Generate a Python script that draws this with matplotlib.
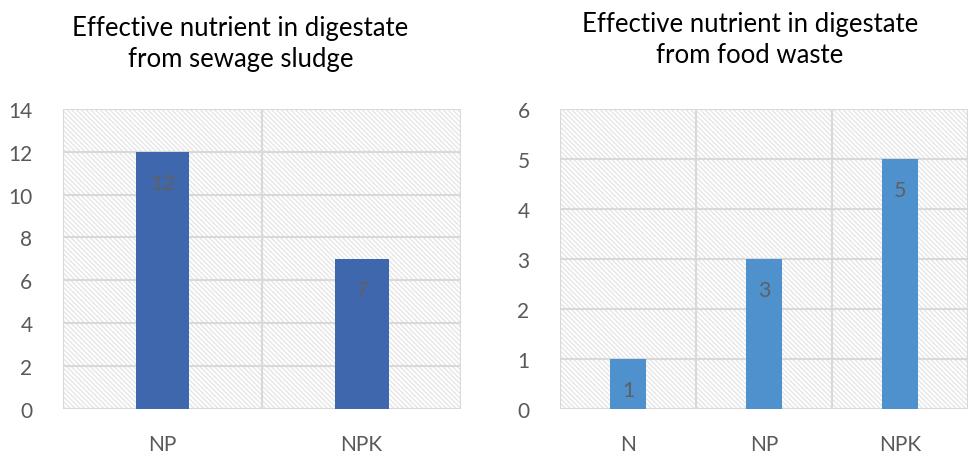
import matplotlib.pyplot as plt
from matplotlib.patches import Rectangle

plt.rcParams['font.family'] = ['Lato', 'DejaVu Sans']
plt.rcParams['hatch.linewidth'] = 1.0

sludge_cats = ["NP", "NPK"]
sludge_vals = [12, 7]
food_cats = ["N", "NP", "NPK"]
food_vals = [1, 3, 5]

grid_c = "#D9D9D9"
text_c = "#595959"


def draw_panel(ax, cats, vals, color, ymax):
    n = len(cats)
    xs = list(range(n))
    # hatched plot area background
    ax.add_patch(Rectangle((0, 0), 1, 1, transform=ax.transAxes, fill=False,
                           hatch="\\" * 7, edgecolor="#E6E6E6", lw=0, zorder=0))
    bars = ax.bar(xs, vals, width=0.27, color=color, zorder=3)
    for b, v in zip(bars, vals):
        ax.text(b.get_x() + b.get_width() / 2, v - ymax * 0.105, str(v),
                ha="center", va="center", fontsize=15.5, color="#606060", zorder=4)
    ax.set_xlim(-0.5, n - 0.5)
    ax.set_ylim(0, ymax)
    ax.set_yticks(range(0, ymax + 1, 2 if ymax > 6 else 1))
    for y in ax.get_yticks():
        ax.axhline(y, color=grid_c, lw=1.5, zorder=1)
    for x in [i - 0.5 for i in range(n + 1)]:
        ax.axvline(x, color=grid_c, lw=1.5, zorder=1)
    ax.axhline(0, color=grid_c, lw=2.2, zorder=2)
    ax.set_xticks(xs)
    ax.set_xticklabels(cats)
    for s in ax.spines.values():
        s.set_visible(False)
    ax.tick_params(length=0, labelsize=15, labelcolor=text_c)
    ax.tick_params(axis="x", pad=18)
    ax.tick_params(axis="y", pad=22)


fig = plt.figure(figsize=(9.69, 4.56), dpi=100)
ax1 = fig.add_axes([0.065, 0.101, 0.411, 0.658])
ax2 = fig.add_axes([0.578, 0.101, 0.421, 0.658])

draw_panel(ax1, sludge_cats, sludge_vals, "#3F67AE", 14)
draw_panel(ax2, food_cats, food_vals, "#4E91CD", 6)

fig.text(0.248, 0.903, "Effective nutrient in digestate\nfrom sewage sludge",
         ha="center", va="center", fontsize=18.5, linespacing=1.3)
fig.text(0.774, 0.912, "Effective nutrient in digestate\nfrom food waste",
         ha="center", va="center", fontsize=18.5, linespacing=1.3)

fig.savefig("out.png", dpi=100, facecolor="white")
